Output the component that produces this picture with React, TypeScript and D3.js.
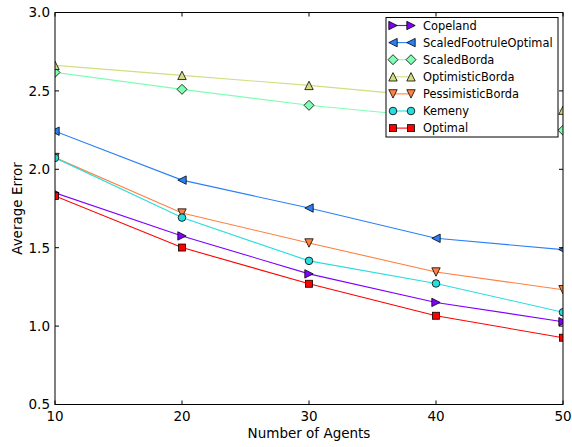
import React from "react";
import * as d3 from "d3";

const agents = [10, 20, 30, 40, 50];
const copeland = [1.85, 1.575, 1.333, 1.151, 1.028];
const scaledFootruleOptimal = [2.243, 1.931, 1.753, 1.56, 1.488];
const scaledBorda = [2.618, 2.51, 2.408, 2.33, 2.249];
const optimisticBorda = [2.663, 2.599, 2.535, 2.46, 2.377];
const pessimisticBorda = [2.075, 1.721, 1.53, 1.345, 1.232];
const kemeny = [2.073, 1.692, 1.416, 1.272, 1.088];
const optimal = [1.83, 1.501, 1.27, 1.066, 0.926];
const xTicks = [10, 20, 30, 40, 50];
const yTicks = [0.5, 1.0, 1.5, 2.0, 2.5, 3.0];

type Series = { name: string; values: number[]; color: string; marker: string };

const series: Series[] = [
  { name: "Copeland", values: copeland, color: "#8000ff", marker: "tri-right" },
  { name: "ScaledFootruleOptimal", values: scaledFootruleOptimal, color: "#2a80f6", marker: "tri-left" },
  { name: "ScaledBorda", values: scaledBorda, color: "#80ffb4", marker: "diamond" },
  { name: "OptimisticBorda", values: optimisticBorda, color: "#d4dd80", marker: "tri-up" },
  { name: "PessimisticBorda", values: pessimisticBorda, color: "#ff8042", marker: "tri-down" },
  { name: "Kemeny", values: kemeny, color: "#2adddd", marker: "circle" },
  { name: "Optimal", values: optimal, color: "#ff0000", marker: "square" },
];

const W = 572, H = 447;
const L = 55, R = 563, T = 12.5, B = 404.5;
const font = "'DejaVu Sans', sans-serif";

function Marker({ type, x, y, color }: { type: string; x: number; y: number; color: string }) {
  const s = 4.2;
  const common = { fill: color, stroke: "#000", strokeWidth: 0.8 };
  switch (type) {
    case "circle":
      return <circle cx={x} cy={y} r={3.8} {...common} />;
    case "square":
      return <rect x={x - 3.5} y={y - 3.5} width={7} height={7} {...common} />;
    case "diamond":
      return <polygon points={`${x},${y - 5} ${x + 5},${y} ${x},${y + 5} ${x - 5},${y}`} {...common} />;
    case "tri-up":
      return <polygon points={`${x},${y - s} ${x + s},${y + s} ${x - s},${y + s}`} {...common} />;
    case "tri-down":
      return <polygon points={`${x},${y + s} ${x + s},${y - s} ${x - s},${y - s}`} {...common} />;
    case "tri-left":
      return <polygon points={`${x - s},${y} ${x + s},${y - s} ${x + s},${y + s}`} {...common} />;
    case "tri-right":
      return <polygon points={`${x + s},${y} ${x - s},${y - s} ${x - s},${y + s}`} {...common} />;
  }
  return null;
}

export default function App() {
  const x = d3.scaleLinear().domain([10, 50]).range([L, R]);
  const y = d3.scaleLinear().domain([0.5, 3.0]).range([B, T]);
  const line = d3
    .line<number>()
    .x((_, i) => x(agents[i]))
    .y((d) => y(d));

  const legX = 386, legY = 17.5, legW = 172, legH = 119.5;
  const rowH = 17.1;

  return (
    <svg width={W} height={H} style={{ position: "absolute", left: 0, top: 0 }} fontFamily={font}>
      <rect x={0} y={0} width={W} height={H} fill="#fff" />
      <defs>
        <clipPath id="plot">
          <rect x={L} y={T} width={R - L} height={B - T} />
        </clipPath>
      </defs>
      <g clipPath="url(#plot)">
        {series.map((s) => (
          <g key={s.name}>
            <path d={line(s.values) || ""} fill="none" stroke={s.color} strokeWidth={1.1} />
            {s.values.map((v, i) => (
              <Marker key={i} type={s.marker} x={x(agents[i])} y={y(v)} color={s.color} />
            ))}
          </g>
        ))}
      </g>
      {/* axes frame */}
      <rect x={L} y={T} width={R - L} height={B - T} fill="none" stroke="#000" strokeWidth={1} />
      {xTicks.map((t) => (
        <g key={t}>
          <line x1={x(t)} x2={x(t)} y1={B} y2={B - 4} stroke="#000" />
          <line x1={x(t)} x2={x(t)} y1={T} y2={T + 4} stroke="#000" />
          <text x={x(t)} y={B + 16} textAnchor="middle" fontSize={13.5} fill="#000">
            {t}
          </text>
        </g>
      ))}
      {yTicks.map((t) => (
        <g key={t}>
          <line x1={L} x2={L + 4} y1={y(t)} y2={y(t)} stroke="#000" />
          <line x1={R} x2={R - 4} y1={y(t)} y2={y(t)} stroke="#000" />
          <text x={L - 5} y={y(t) + 4.8} textAnchor="end" fontSize={13.5} fill="#000">
            {t.toFixed(1)}
          </text>
        </g>
      ))}
      <text x={(L + R) / 2} y={438} textAnchor="middle" fontSize={13.5} fill="#000">
        Number of Agents
      </text>
      <text
        transform={`translate(${22},${(T + B) / 2}) rotate(-90)`}
        textAnchor="middle"
        fontSize={13.5}
        fill="#000"
      >
        Average Error
      </text>
      {/* legend */}
      <rect x={legX} y={legY} width={legW} height={legH} fill="#fff" stroke="#000" strokeWidth={1} />
      {series.map((s, i) => {
        const yy = legY + 8 + i * rowH;
        return (
          <g key={s.name}>
            <line x1={393} x2={411} y1={yy} y2={yy} stroke={s.color} strokeWidth={1.1} />
            <Marker type={s.marker} x={393} y={yy} color={s.color} />
            <Marker type={s.marker} x={411} y={yy} color={s.color} />
            <text x={423} y={yy + 4.2} fontSize={11.4} fill="#000">
              {s.name}
            </text>
          </g>
        );
      })}
    </svg>
  );
}
